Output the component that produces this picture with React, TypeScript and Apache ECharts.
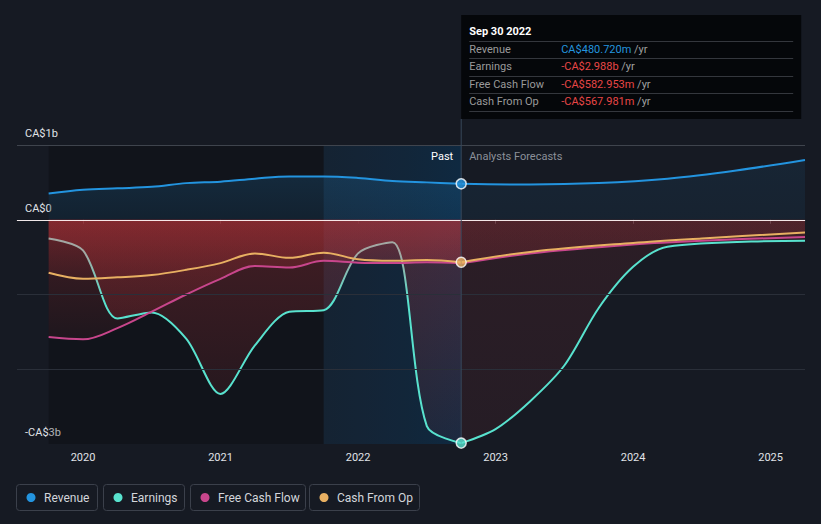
import React, { useEffect, useRef } from 'react';
import * as echarts from 'echarts';

// ---- data (values in CA$ billions) ----
const pastYears = [2019.75, 2020, 2020.25, 2020.5, 2020.75, 2021, 2021.25, 2021.5, 2021.75, 2022, 2022.25, 2022.5, 2022.75];
const revenuePast = [0.35, 0.4, 0.42, 0.44, 0.49, 0.51, 0.55, 0.58, 0.58, 0.56, 0.52, 0.5, 0.48072];
const earningsPast = [-0.25, -0.41, -1.32, -1.24, -1.59, -2.33, -1.68, -1.23, -1.21, -0.45, -0.3, -2.76, -2.988];
const fcfPast = [-1.57, -1.6, -1.45, -1.23, -1.0, -0.79, -0.62, -0.64, -0.55, -0.575, -0.58, -0.57, -0.582953];
const cfoPast = [-0.71, -0.79, -0.77, -0.74, -0.67, -0.58, -0.45, -0.51, -0.44, -0.53, -0.55, -0.54, -0.567981];

const revenueFcYears = [2022.75, 2023.25, 2023.75, 2024.25, 2024.75, 2025.25];
const revenueFc = [0.48072, 0.47, 0.49, 0.55, 0.66, 0.8];
const earningsFcYears = [2022.75, 2023.0, 2023.25, 2023.5, 2023.75, 2024.0, 2024.25, 2025.25];
const earningsFc = [-2.988, -2.8, -2.43, -1.95, -1.18, -0.63, -0.36, -0.28];
const cashFcYears = [2022.75, 2023.25, 2024.0, 2024.5, 2025.25];
const fcfFc = [-0.582953, -0.45, -0.33, -0.28, -0.23];
const cfoFc = [-0.567981, -0.43, -0.31, -0.25, -0.17];

const yearTicks = [2020, 2021, 2022, 2023, 2024, 2025];
const yTickLabels: Record<string, string> = { '1': 'CA$1b', '0': 'CA$0', '-3': '-CA$3b' };
const nowYear = 2022.75;
const nowLabel = 'Sep 30 2022';
const pastStart = 2019.75;
const highlightStart = 2021.75;
const xMin = 2019.52;
const xMax = 2025.25;
const yMin = -3;
const yMax = 1;

const C = {
  bg: '#161a23',
  revenue: '#2394df',
  earnings: '#58e2ce',
  earningsMuted: '#a2a8a3',
  fcf: '#c8468c',
  cfo: '#e8b062',
  text: '#e0e3e8',
  neg: '#e84646',
};
const FONT = 'Roboto, "Noto Sans", sans-serif';

const pair = (xs: number[], ys: number[]) => xs.map((x, i) => [x, ys[i]]);

const grad = (rgb: string, a0: number, a1: number) =>
  new echarts.graphic.LinearGradient(0, 0, 0, 1, [
    { offset: 0, color: `rgba(${rgb},${a0})` },
    { offset: 1, color: `rgba(${rgb},${a1})` },
  ]);

function lineSeries(name: string, data: number[][], color: string | null, area: any, smooth = 0.35) {
  const s: any = {
    type: 'line',
    name,
    data,
    smooth,
    symbol: 'none',
    lineStyle: { width: 2 },
    areaStyle: { color: area },
    z: 2,
    silent: true,
  };
  if (color) {
    s.lineStyle.color = color;
    s.itemStyle = { color };
  }
  return s;
}

function fmt(v: number) {
  const a = Math.abs(v);
  const s = a >= 1 ? a.toFixed(3) + 'b' : (a * 1000).toFixed(3) + 'm';
  return (v < 0 ? '-' : '') + 'CA$' + s;
}

function buildOption() {
  const RED = '205,55,60';
  const BLUE = '35,148,223';
  const last = pastYears.length - 1;
  return {
    animation: false,
    backgroundColor: C.bg,
    textStyle: { fontFamily: FONT },
    grid: { left: 17, right: 16, top: 145, bottom: 80, containLabel: false },
    visualMap: {
      show: false,
      type: 'continuous',
      seriesIndex: 3,
      dimension: 1,
      min: -1.1,
      max: -0.45,
      inRange: { color: [C.earnings, C.earningsMuted] },
    },
    xAxis: {
      type: 'value',
      min: xMin,
      max: xMax,
      axisLine: { show: true, lineStyle: { color: '#474c56', width: 1 } },
      axisTick: { show: true, length: 4, lineStyle: { color: '#474c56' }, customValues: yearTicks },
      axisLabel: {
        color: C.text,
        fontSize: 11,
        fontFamily: FONT,
        margin: 8,
        customValues: yearTicks,
        formatter: (v: number) => String(Math.round(v)),
      },
      splitLine: { show: false },
    },
    yAxis: {
      type: 'value',
      min: yMin,
      max: yMax,
      interval: 1,
      axisLine: { show: false },
      axisTick: { show: false },
      splitLine: { show: false },
      axisLabel: {
        inside: true,
        margin: 8,
        color: C.text,
        fontSize: 11,
        fontFamily: FONT,
        verticalAlign: 'bottom',
        padding: [0, 0, 6, 0],
        formatter: (v: number) => yTickLabels[String(Math.round(v))] ?? '',
      },
    },
    series: [
      {
        type: 'line',
        name: 'bg',
        data: [[pastStart, 0]],
        symbol: 'none',
        lineStyle: { opacity: 0, width: 0 },
        z: 1,
        silent: true,
        markArea: {
          silent: true,
          data: [
            [
              { xAxis: pastStart, itemStyle: { color: 'rgba(0,0,0,0.22)' } },
              { xAxis: highlightStart },
            ],
            [
              {
                xAxis: highlightStart,
                itemStyle: {
                  color: new echarts.graphic.LinearGradient(0, 0, 1, 0, [
                    { offset: 0, color: 'rgba(4,24,40,0.5)' },
                    { offset: 1, color: 'rgba(3,32,56,0.85)' },
                  ]),
                },
              },
              { xAxis: nowYear },
            ],
          ],
        },
        markLine: {
          silent: true,
          symbol: ['none', 'none'],
          label: { show: false },
          data: [
            { yAxis: 1, lineStyle: { color: '#3f444d', width: 1, type: 'solid' } },
            { yAxis: -1, lineStyle: { color: '#2a2f39', width: 1, type: 'solid' } },
            { yAxis: -2, lineStyle: { color: '#2a2f39', width: 1, type: 'solid' } },
          ],
        },
      },
      lineSeries('Revenue', pair(pastYears, revenuePast), C.revenue, grad(BLUE, 0.24, 0.15)),
      lineSeries('Revenue forecast', pair(revenueFcYears, revenueFc), C.revenue, grad(BLUE, 0.13, 0.1)),
      lineSeries('Earnings', pair(pastYears, earningsPast), null, grad(RED, 0.38, 0.1), 0.3),
      lineSeries('Earnings forecast', pair(earningsFcYears, earningsFc), C.earnings, grad(RED, 0.17, 0.12), 0.3),
      lineSeries('Free Cash Flow', pair(pastYears, fcfPast), C.fcf, grad(RED, 0.38, 0.1)),
      lineSeries('Free Cash Flow forecast', pair(cashFcYears, fcfFc), C.fcf, grad(RED, 0.17, 0.12)),
      lineSeries('Cash From Op', pair(pastYears, cfoPast), C.cfo, grad(RED, 0.38, 0.1)),
      lineSeries('Cash From Op forecast', pair(cashFcYears, cfoFc), C.cfo, grad(RED, 0.17, 0.12)),
      {
        type: 'line',
        name: 'overlay',
        data: [[pastStart, 0]],
        symbol: 'none',
        lineStyle: { opacity: 0, width: 0 },
        z: 4,
        silent: true,
        markArea: {
          silent: true,
          data: [
            [
              { xAxis: highlightStart, itemStyle: { color: 'rgba(110,140,190,0.09)' } },
              { xAxis: nowYear },
            ],
          ],
        },
        markLine: {
          silent: true,
          symbol: ['none', 'none'],
          label: { show: false },
          data: [{ yAxis: 0, lineStyle: { color: 'rgba(255,245,245,0.92)', width: 1, type: 'solid' } }],
        },
      },
      {
        type: 'scatter',
        name: 'now',
        z: 20,
        silent: true,
        symbolSize: 10,
        data: [
          { value: [nowYear, revenuePast[last]], itemStyle: { color: C.revenue } },
          { value: [nowYear, earningsPast[last]], itemStyle: { color: C.earnings } },
          { value: [nowYear, cfoPast[last]], itemStyle: { color: C.cfo } },
        ],
        itemStyle: { borderColor: '#ffffff', borderWidth: 1.5 },
      },
    ],
  };
}

function buildGraphic(nx: number, yBottom: number) {
  const last = pastYears.length - 1;
  const boxTop = 15;
  const boxH = 104;
  const boxW = 340;
  const lx = nx + 8;
  const vx = nx + 100;
  const rows = [
    { label: 'Revenue', value: fmt(revenuePast[last]), color: C.revenue },
    { label: 'Earnings', value: fmt(earningsPast[last]), color: C.neg },
    { label: 'Free Cash Flow', value: fmt(fcfPast[last]), color: C.neg },
    { label: 'Cash From Op', value: fmt(cfoPast[last]), color: C.neg },
  ];
  const rowY = [49, 66, 84, 101];
  const sepY = [41, 58, 76, 93, 111];
  const els: any[] = [];
  els.push({
    type: 'line',
    z: 5,
    silent: true,
    shape: { x1: nx, y1: boxTop + boxH, x2: nx, y2: yBottom },
    style: { stroke: '#37475a', lineWidth: 1 },
  });
  els.push({
    type: 'rect',
    z: 6,
    silent: true,
    shape: { x: nx, y: boxTop, width: boxW, height: boxH },
    style: { fill: '#05070a' },
  });
  els.push({
    type: 'text',
    z: 7,
    silent: true,
    x: lx,
    y: 31,
    style: { text: nowLabel, fill: '#ffffff', fontSize: 11, fontWeight: 'bold', fontFamily: FONT, verticalAlign: 'middle' },
  });
  sepY.forEach((y) =>
    els.push({
      type: 'line',
      z: 7,
      silent: true,
      shape: { x1: lx, y1: y + 0.5, x2: nx + boxW - 8, y2: y + 0.5 },
      style: { stroke: '#34373d', lineWidth: 1 },
    })
  );
  rows.forEach((r, i) => {
    els.push({
      type: 'text',
      z: 7,
      silent: true,
      x: lx,
      y: rowY[i],
      style: { text: r.label, fill: '#9a9a9a', fontSize: 11, fontFamily: FONT, verticalAlign: 'middle' },
    });
    els.push({
      type: 'text',
      z: 7,
      silent: true,
      x: vx,
      y: rowY[i],
      style: {
        text: `{v|${r.value}} {u|/yr}`,
        fontSize: 11,
        fontFamily: FONT,
        verticalAlign: 'middle',
        rich: {
          v: { fill: r.color, fontSize: 11, fontFamily: FONT },
          u: { fill: '#a0a0a0', fontSize: 11, fontFamily: FONT },
        },
      },
    });
  });
  els.push({
    type: 'text',
    z: 7,
    silent: true,
    x: nx - 8,
    y: 156,
    style: { text: 'Past', fill: '#ffffff', fontSize: 11, fontFamily: FONT, align: 'right', verticalAlign: 'middle' },
  });
  els.push({
    type: 'text',
    z: 7,
    silent: true,
    x: nx + 8,
    y: 156,
    style: { text: 'Analysts Forecasts', fill: '#8b9099', fontSize: 11, fontFamily: FONT, align: 'left', verticalAlign: 'middle' },
  });

  const legend = [
    { name: 'Revenue', color: C.revenue, x: 16, w: 81 },
    { name: 'Earnings', color: C.earnings, x: 103, w: 81 },
    { name: 'Free Cash Flow', color: C.fcf, x: 190, w: 115 },
    { name: 'Cash From Op', color: C.cfo, x: 309, w: 110 },
  ];
  legend.forEach((l) => {
    els.push({
      type: 'rect',
      z: 7,
      silent: true,
      shape: { x: l.x + 0.5, y: 484.5, width: l.w, height: 26, r: 3 },
      style: { fill: 'transparent', stroke: '#3b404b', lineWidth: 1 },
    });
    els.push({
      type: 'circle',
      z: 8,
      silent: true,
      shape: { cx: l.x + 15, cy: 497.5, r: 4.5 },
      style: { fill: l.color },
    });
    els.push({
      type: 'text',
      z: 8,
      silent: true,
      x: l.x + 28,
      y: 497.5,
      style: { text: l.name, fill: '#d3d6db', fontSize: 12, fontFamily: FONT, verticalAlign: 'middle' },
    });
  });
  return els;
}

export default function App() {
  const ref = useRef<HTMLDivElement>(null);
  useEffect(() => {
    document.body.style.margin = '0';
    document.body.style.background = C.bg;
    const chart = echarts.init(ref.current as HTMLDivElement, null, { renderer: 'svg' });
    chart.setOption(buildOption() as any);
    const p = chart.convertToPixel({ gridIndex: 0 } as any, [nowYear, yMin]) as number[];
    chart.setOption({ graphic: { elements: buildGraphic(p[0], p[1]) } } as any);
    return () => chart.dispose();
  }, []);
  return <div ref={ref} style={{ width: 821, height: 524 }} />;
}
